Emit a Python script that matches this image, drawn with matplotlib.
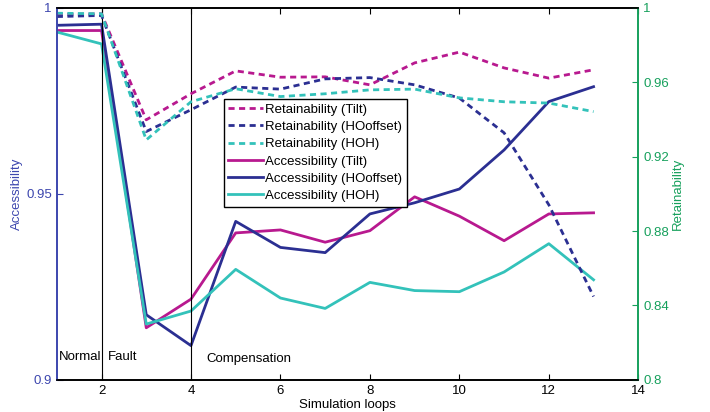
import matplotlib.pyplot as plt

plt.rcParams['font.family'] = ['Liberation Sans', 'DejaVu Sans']
plt.rcParams['font.size'] = 9.5

loops = [1, 2, 3, 4, 5, 6, 7, 8, 9, 10, 11, 12, 13]

# Accessibility (left axis)
acc_tilt = [0.9939, 0.9939, 0.9140, 0.9217, 0.9395, 0.9403, 0.9370, 0.9401, 0.9492, 0.9440, 0.9374, 0.9446, 0.9449]
acc_hooffset = [0.9953, 0.9956, 0.9175, 0.9092, 0.9426, 0.9356, 0.9342, 0.9446, 0.9476, 0.9513, 0.9618, 0.9748, 0.9788]
acc_hoh = [0.9935, 0.9903, 0.9150, 0.9185, 0.9297, 0.9220, 0.9192, 0.9262, 0.9240, 0.9237, 0.9290, 0.9366, 0.9269]

# Retainability (right axis)
ret_tilt = [0.9964, 0.9968, 0.9398, 0.9538, 0.9661, 0.9627, 0.9629, 0.9586, 0.9704, 0.9762, 0.9677, 0.9622, 0.9667]
ret_hooffset = [0.9953, 0.9959, 0.9335, 0.9452, 0.9574, 0.9563, 0.9618, 0.9625, 0.9586, 0.9515, 0.9328, 0.8941, 0.8448]
ret_hoh = [0.9971, 0.9968, 0.9290, 0.9495, 0.9565, 0.9523, 0.9538, 0.9559, 0.9563, 0.9516, 0.9495, 0.9488, 0.9442]

c_tilt = '#B8198F'
c_hooff = '#2B2F92'
c_hoh = '#33C2BA'
c_left = '#3C46AE'
c_right = '#16A05C'

fig = plt.figure(figsize=(7.1, 4.12), dpi=100)
ax = fig.add_axes([0.080, 0.078, 0.819, 0.903])
ax2 = ax.twinx()

lw = 2.0
dash = (2.2, 1.6)
h4, = ax.plot(loops, acc_tilt, color=c_tilt, lw=lw, label='Accessibility (Tilt)')
h5, = ax.plot(loops, acc_hooffset, color=c_hooff, lw=lw, label='Accessibility (HOoffset)')
h6, = ax.plot(loops, acc_hoh, color=c_hoh, lw=lw, label='Accessibility (HOH)')
h1, = ax2.plot(loops, ret_tilt, color=c_tilt, lw=lw, dashes=dash, label='Retainability (Tilt)')
h2, = ax2.plot(loops, ret_hooffset, color=c_hooff, lw=lw, dashes=dash, label='Retainability (HOoffset)')
h3, = ax2.plot(loops, ret_hoh, color=c_hoh, lw=lw, dashes=dash, label='Retainability (HOH)')

ax.set_xlim(1, 14)
ax.set_ylim(0.9, 1.0)
ax2.set_ylim(0.8, 1.0)
ax.set_xticks([2, 4, 6, 8, 10, 12, 14])
ax.set_yticks([0.9, 0.95, 1.0])
ax.set_yticklabels(['0.9', '0.95', '1'])
ax2.set_yticks([0.8, 0.84, 0.88, 0.92, 0.96, 1.0])
ax2.set_yticklabels(['0.8', '0.84', '0.88', '0.92', '0.96', '1'])

# phase markers
for xv in [2, 4]:
    ax.axvline(xv, color='black', lw=0.8)
ax.text(1.05, 0.9045, 'Normal', va='bottom')
ax.text(2.15, 0.9045, 'Fault', va='bottom')
ax.text(4.35, 0.9040, 'Compensation', va='bottom')

ax.tick_params(axis='x', direction='in', top=True, length=4, colors='black')
ax.tick_params(axis='y', direction='in', length=4, colors=c_left)
ax2.tick_params(axis='y', direction='in', length=4, colors=c_right)

ax.spines['left'].set_color(c_left)
ax2.spines['left'].set_color(c_left)
ax2.spines['right'].set_color(c_right)
ax.spines['right'].set_color(c_right)
for sp in ['left', 'right', 'top', 'bottom']:
    ax.spines[sp].set_linewidth(1.2)
    ax2.spines[sp].set_linewidth(1.2)

ax.set_xlabel('Simulation loops', labelpad=1.5)
ax.set_ylabel('Accessibility', color=c_left, labelpad=2)
ax2.set_ylabel('Retainability', color=c_right, labelpad=2)

leg = ax2.legend(handles=[h1, h2, h3, h4, h5, h6], loc='upper left',
                 bbox_to_anchor=(0.287, 0.755), fancybox=False, framealpha=1,
                 edgecolor='black', fontsize=9.5, handlelength=2.6,
                 handletextpad=0.2, borderpad=0.35, labelspacing=0.38,
                 borderaxespad=0)
leg.get_frame().set_linewidth(1.0)

fig.savefig('out.png', dpi=100)
